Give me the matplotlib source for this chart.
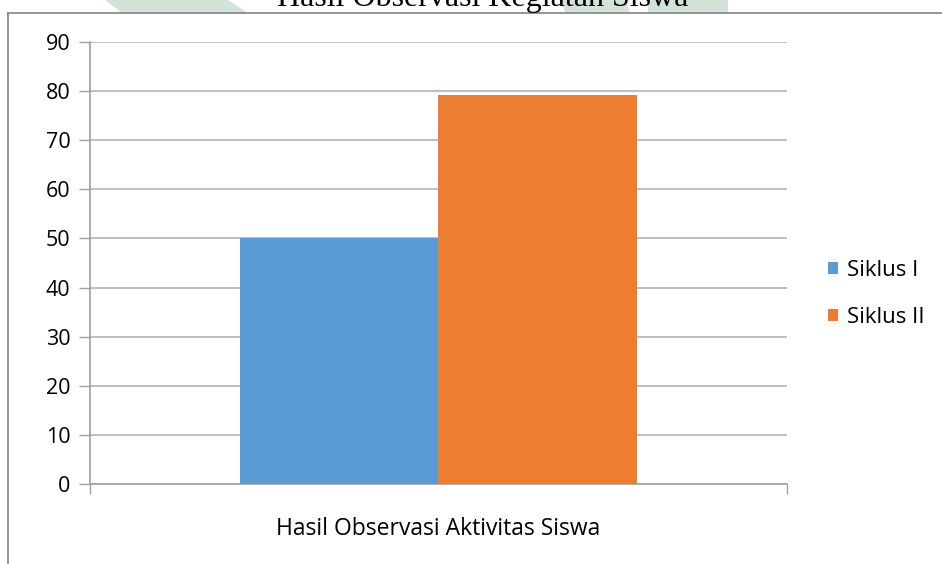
import matplotlib.pyplot as plt
import numpy as np

categories = ['Hasil Observasi Aktivitas Siswa']
series = ['Siklus I', 'Siklus II']
values = [50, 79.17]
colors = ['#5B9BD5', '#ED7D31']
yticks = [0, 10, 20, 30, 40, 50, 60, 70, 80, 90]

W, H = 942, 564
fig = plt.figure(figsize=(W / 100, H / 100), dpi=100)
plt.rcParams['font.family'] = ['Open Sans', 'DejaVu Sans']

def fx(px):
    return px / W

def fy(py):
    return 1 - py / H

# faint watermark patches above the chart frame
for poly in [[(105, 0), (228, 0), (248, 13), (122, 13)],
             [(560, 0), (626, 0), (630, 13), (566, 13)],
             [(648, 0), (728, 0), (728, 13), (648, 13)]]:
    fig.add_artist(plt.Polygon([(fx(a), fy(b)) for a, b in poly], closed=True,
                               transform=fig.transFigure, facecolor='#d3e3d9',
                               edgecolor='none', zorder=0))

# plot area in pixels
x0, x1, ytop, ybot = 90, 787, 42, 484
ax = fig.add_axes([fx(x0), fy(ybot), (x1 - x0) / W, (ybot - ytop) / H])

bw = 0.2855
offsets = [-bw / 2, bw / 2]
for name, v, c, off in zip(series, values, colors, offsets):
    ax.bar(off, v, width=bw, color=c, label=name, zorder=3)

ax.set_xlim(-0.5, 0.5)
ax.set_ylim(0, 90)
ax.set_yticks(yticks)
ax.yaxis.grid(True, color='#b3b3b3', linewidth=1.2, zorder=0)
ax.set_xticks([-0.5, 0.5])
ax.set_xticklabels(['', ''])
ax.tick_params(axis='y', length=8, color='#a0a0a0', width=1, labelsize=15.5, pad=6, labelcolor='#000000')
ax.tick_params(axis='x', length=7, color='#a0a0a0', width=1, direction='out')
for s in ['top', 'right']:
    ax.spines[s].set_visible(False)
for s in ['left', 'bottom']:
    ax.spines[s].set_color('#a0a0a0')
    ax.spines[s].set_linewidth(1.2)

fig.text(fx(438), fy(529), categories[0], ha='center', va='center', fontsize=16.5)

leg = ax.legend(loc='center left', bbox_to_anchor=(1.03, 0.43), frameon=False,
                fontsize=16, handlelength=0.45, handleheight=0.45, handletextpad=0.4,
                labelspacing=1.2)

# outer chart frame
fig.add_artist(plt.Line2D([fx(8), fx(8)], [0, fy(12.5)], transform=fig.transFigure,
                          color='#8c8c8c', linewidth=1.3))
fig.add_artist(plt.Line2D([fx(8), 1], [fy(12.5), fy(12.5)], transform=fig.transFigure,
                          color='#8c8c8c', linewidth=1.3))

fig.text(fx(483), fy(6), 'Hasil Observasi Kegiatan Siswa', ha='center', va='baseline',
         fontsize=23, family=['Liberation Serif', 'DejaVu Serif'])

fig.savefig('out.png', dpi=100)
